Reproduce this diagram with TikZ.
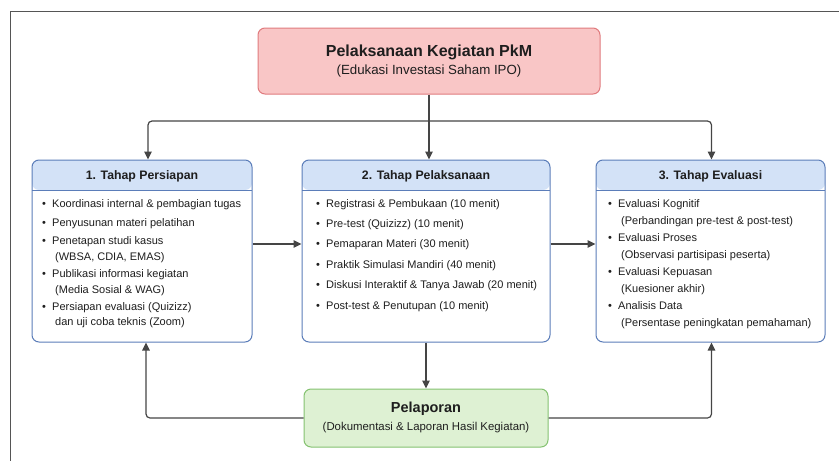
\documentclass[tikz,border=0pt]{standalone}
\usepackage{fontspec}
\setmainfont{Liberation Sans}
\usetikzlibrary{arrows.meta}
\definecolor{pinkfill}{HTML}{F9C6C6}
\definecolor{pinkline}{HTML}{E07B7E}
\definecolor{bluefill}{HTML}{D3E2F7}
\definecolor{blueline}{HTML}{5B7DB9}
\definecolor{greenfill}{HTML}{DEF1D3}
\definecolor{greenline}{HTML}{84C270}
\definecolor{arrowc}{HTML}{454545}
\definecolor{textc}{HTML}{1E1E1E}
\definecolor{framec}{HTML}{555555}
\begin{document}
\begin{tikzpicture}[x=1pt,y=-1pt,
  box/.style={draw, rounded corners=7pt, line width=1pt, inner sep=0pt},
  mainbox/.style={box, draw=pinkline, fill=pinkfill},
  lapbox/.style={box, draw=greenline, fill=greenfill},
  phase/.style={box, draw=blueline, fill=white,
    path picture={
      \fill[bluefill] (path picture bounding box.north west) rectangle ([yshift=-30pt]path picture bounding box.north east);
      \draw[blueline, line width=0.8pt] ([yshift=-30pt]path picture bounding box.north west) -- ([yshift=-30pt]path picture bounding box.north east);
    }},
  ttl/.style={anchor=mid, yshift=-2pt, font=\bfseries\fontsize{16}{19}\selectfont, text=textc, inner sep=0pt},
  sub/.style={anchor=mid, yshift=-2pt, font=\fontsize{13.3}{16}\selectfont, text=textc, inner sep=0pt},
  hdr/.style={anchor=mid, yshift=-2pt, font=\bfseries\fontsize{12.3}{15}\selectfont, text=textc, inner sep=0pt},
  item/.style={anchor=mid west, yshift=-1.5pt, font=\fontsize{11}{13}\selectfont, text=textc, inner sep=0pt},
  conn/.style={draw=arrowc, line width=1.2pt},
  arr/.style={conn, -{Triangle[length=8pt,width=7.5pt]}, rounded corners=4pt}
]
\useasboundingbox (0,0) rectangle (839,461);
\draw[framec, line width=0.9pt] (10,461) -- (10,11) -- (839,11);

% boxes
\node[mainbox, minimum width=342pt, minimum height=66pt] (top) at (429,61) {};
\node[phase, minimum width=220pt, minimum height=182pt] (p1) at (142,251) {};
\node[phase, minimum width=248pt, minimum height=182pt] (p2) at (426,251) {};
\node[phase, minimum width=229pt, minimum height=182pt] (p3) at (710.5,251) {};
\node[lapbox, minimum width=244pt, minimum height=58pt] (lap) at (426,418) {};

% titles
\node[ttl] (topt) at (429,52) {Pelaksanaan Kegiatan PkM};
\node[sub] (tops) at (429,70) {(Edukasi Investasi Saham IPO)};
\node[hdr] (h1) at (142,175) {1. Tahap Persiapan};
\node[hdr] (h2) at (426,175) {2. Tahap Pelaksanaan};
\node[hdr] (h3) at (710.5,175) {3. Tahap Evaluasi};
\node[ttl, font=\bfseries\fontsize{14.5}{17}\selectfont] (lapt) at (426,408) {Pelaporan};
\node[sub, font=\fontsize{11.4}{14}\selectfont] (laps) at (426,426) {(Dokumentasi \& Laporan Hasil Kegiatan)};

% box 1 items
\node[item] (a1b) at (42,203) {\textbullet};
\node[item] (a1) at (52,203) {Koordinasi internal \& pembagian tugas};
\node[item] (a2b) at (42,222) {\textbullet};
\node[item] (a2) at (52,222) {Penyusunan materi pelatihan};
\node[item] (a3b) at (42,240) {\textbullet};
\node[item] (a3) at (52,240) {Penetapan studi kasus};
\node[item] (a3c) at (55,256) {(WBSA, CDIA, EMAS)};
\node[item] (a4b) at (42,273) {\textbullet};
\node[item] (a4) at (52,273) {Publikasi informasi kegiatan};
\node[item] (a4c) at (55,289) {(Media Sosial \& WAG)};
\node[item] (a5b) at (42,306) {\textbullet};
\node[item] (a5) at (52,306) {Persiapan evaluasi (Quizizz)};
\node[item] (a5c) at (55,321) {dan uji coba teknis (Zoom)};

% box 2 items
\node[item] (b1b) at (316,203) {\textbullet};
\node[item] (b1) at (326,203) {Registrasi \& Pembukaan (10 menit)};
\node[item] (b2b) at (316,223) {\textbullet};
\node[item] (b2) at (326,223) {Pre-test (Quizizz) (10 menit)};
\node[item] (b3b) at (316,243) {\textbullet};
\node[item] (b3) at (326,243) {Pemaparan Materi (30 menit)};
\node[item] (b4b) at (316,264) {\textbullet};
\node[item] (b4) at (326,264) {Praktik Simulasi Mandiri (40 menit)};
\node[item] (b5b) at (316,284) {\textbullet};
\node[item] (b5) at (326,284) {Diskusi Interaktif \& Tanya Jawab (20 menit)};
\node[item] (b6b) at (316,305) {\textbullet};
\node[item] (b6) at (326,305) {Post-test \& Penutupan (10 menit)};

% box 3 items
\node[item] (c1b) at (608,203) {\textbullet};
\node[item] (c1) at (618,203) {Evaluasi Kognitif};
\node[item] (c1c) at (621,220) {(Perbandingan pre-test \& post-test)};
\node[item] (c2b) at (608,237) {\textbullet};
\node[item] (c2) at (618,237) {Evaluasi Proses};
\node[item] (c2c) at (621,254) {(Observasi partisipasi peserta)};
\node[item] (c3b) at (608,271) {\textbullet};
\node[item] (c3) at (618,271) {Evaluasi Kepuasan};
\node[item] (c3c) at (621,288) {(Kuesioner akhir)};
\node[item] (c4b) at (608,305) {\textbullet};
\node[item] (c4) at (618,305) {Analisis Data};
\node[item] (c4c) at (621,322) {(Persentase peningkatan pemahaman)};

% connectors
\coordinate (j) at (429,121);
\draw[conn] (top.south) -- (j);
\draw[arr] (j) -| ([xshift=6pt]p1.north);
\draw[arr] (j) -- (j |- p2.north);
\draw[arr] (j) -| ([xshift=1pt]p3.north);
\draw[arr] ([yshift=7pt]p1.east) -- ([yshift=7pt]p2.west);
\draw[arr] ([yshift=7pt]p2.east) -- ([yshift=7pt]p3.west);
\draw[arr] (p2.south) -- (lap.north);
\draw[arr] (lap.west) -| ([xshift=4pt]p1.south);
\draw[arr] (lap.east) -| ([xshift=1pt]p3.south);
\end{tikzpicture}
\end{document}
